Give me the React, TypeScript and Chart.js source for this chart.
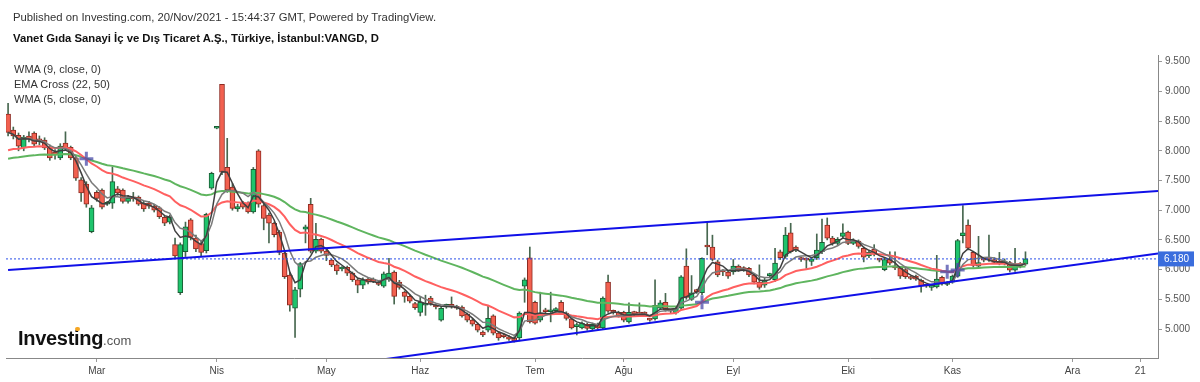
import React, { useEffect, useRef } from 'react';
import { Chart, registerables } from 'chart.js';

Chart.register(...registerables);

// Daily OHLC, VANGD (bar index 0 = early Feb 2021 ... 195 = 19 Nov 2021)
const openP = [
  8.62, 8.35, 8.26, 8.05, 8.25, 8.30, 8.19, 8.18, 8.06, 7.98, 7.88, 8.13, 8.06, 7.88, 7.51, 7.44, 6.64, 7.30, 7.34, 7.10,
  7.12, 7.36, 7.34, 7.15, 7.22, 7.22, 7.12, 7.12, 7.07, 7.04, 6.88, 6.80, 6.42, 5.61, 6.30, 6.84, 6.53, 6.44, 6.32, 7.37,
  8.38, 9.12, 7.72, 7.39, 7.02, 7.12, 7.12, 6.97, 8.00, 7.08, 6.92, 6.78, 6.63, 6.28, 5.91, 5.35, 5.67, 6.68, 7.10, 6.31,
  6.51, 6.31, 6.16, 6.08, 6.01, 6.04, 5.94, 5.83, 5.74, 5.84, 5.84, 5.79, 5.72, 5.84, 5.96, 5.79, 5.62, 5.55, 5.43, 5.28,
  5.40, 5.52, 5.38, 5.15, 5.38, 5.39, 5.38, 5.37, 5.25, 5.15, 5.08, 4.95, 4.98, 5.22, 4.93, 4.90, 4.87, 4.85, 4.85, 5.72,
  6.20, 5.45, 5.15, 5.31, 5.29, 5.31, 5.45, 5.27, 5.17, 5.04, 5.02, 5.08, 5.00, 5.08, 5.02, 5.79, 5.30, 5.28, 5.28, 5.12,
  5.27, 5.26, 5.26, 5.16, 5.17, 5.35, 5.45, 5.31, 5.27, 5.35, 6.06, 5.50, 5.65, 5.61, 6.40, 6.38, 6.13, 5.98, 5.96, 5.96,
  6.06, 6.02, 6.02, 5.91, 5.79, 5.74, 5.90, 5.83, 6.30, 6.22, 6.62, 6.38, 6.19, 6.18, 6.14, 6.20, 6.30, 6.75, 6.53, 6.44,
  6.56, 6.63, 6.44, 6.48, 6.36, 6.23, 6.34, 6.17, 6.00, 6.18, 6.04, 6.03, 6.00, 5.87, 5.89, 5.82, 5.73, 5.70, 5.71, 5.87,
  5.75, 5.79, 5.89, 6.57, 6.75, 6.29, 6.06, 6.17, 6.18, 6.17, 6.14, 6.11, 6.12, 5.99, 6.10, 6.09,
];
const highP = [
  8.80, 8.40, 8.30, 8.26, 8.32, 8.32, 8.25, 8.22, 8.10, 8.02, 8.12, 8.32, 8.08, 7.90, 7.55, 7.48, 7.08, 7.33, 7.36, 7.15,
  7.73, 7.40, 7.36, 7.25, 7.30, 7.24, 7.15, 7.15, 7.10, 7.06, 6.90, 6.92, 6.53, 6.45, 6.80, 6.86, 6.58, 6.48, 6.95, 7.64,
  8.39, 9.12, 8.21, 7.45, 7.10, 7.15, 7.14, 7.72, 8.02, 7.12, 6.95, 6.80, 6.66, 6.30, 5.95, 5.70, 6.12, 6.75, 7.20, 6.78,
  6.53, 6.35, 6.18, 6.10, 6.05, 6.06, 5.96, 5.85, 5.86, 5.86, 5.86, 5.81, 5.96, 6.19, 5.98, 5.82, 5.64, 5.57, 5.45, 5.55,
  5.57, 5.55, 5.41, 5.37, 5.42, 5.54, 5.40, 5.39, 5.27, 5.17, 5.10, 4.97, 5.38, 5.24, 4.95, 4.92, 4.89, 4.87, 5.29, 5.86,
  6.38, 5.47, 5.62, 5.35, 5.62, 5.36, 5.48, 5.29, 5.19, 5.10, 5.12, 5.10, 5.10, 5.10, 5.54, 5.91, 5.32, 5.30, 5.30, 5.44,
  5.30, 5.44, 5.29, 5.18, 5.83, 5.48, 5.60, 5.33, 5.37, 5.90, 6.35, 5.90, 5.67, 6.20, 6.80, 6.58, 6.16, 6.00, 5.98, 6.17,
  6.08, 6.05, 6.04, 5.93, 6.08, 5.86, 5.94, 6.36, 6.33, 6.71, 6.78, 6.40, 6.21, 6.20, 6.20, 6.60, 6.85, 6.87, 6.56, 6.54,
  6.77, 6.65, 6.52, 6.50, 6.38, 6.32, 6.42, 6.19, 6.19, 6.30, 6.30, 6.05, 6.02, 5.89, 5.91, 5.84, 5.75, 5.73, 6.24, 5.89,
  5.80, 5.91, 6.51, 7.08, 6.84, 6.31, 6.56, 6.20, 6.58, 6.20, 6.29, 6.18, 6.14, 6.36, 6.12, 6.30,
];
const lowP = [
  8.25, 8.20, 8.00, 8.00, 8.15, 8.08, 8.10, 8.02, 7.84, 7.86, 7.85, 8.02, 7.85, 7.50, 7.15, 7.05, 6.62, 7.15, 7.02, 7.08,
  7.03, 7.25, 7.12, 7.12, 7.15, 7.08, 6.98, 7.03, 6.97, 6.86, 6.74, 6.77, 6.20, 5.58, 6.22, 6.50, 6.30, 6.22, 6.28, 7.35,
  8.37, 7.60, 7.30, 7.00, 6.98, 7.02, 6.95, 6.95, 7.05, 6.67, 6.45, 6.55, 6.25, 5.85, 5.30, 4.86, 5.54, 6.45, 6.28, 6.28,
  6.28, 6.15, 6.05, 5.92, 5.98, 5.90, 5.80, 5.61, 5.68, 5.76, 5.78, 5.73, 5.70, 5.80, 5.42, 5.67, 5.45, 5.44, 5.33, 5.22,
  5.23, 5.40, 5.34, 5.13, 5.35, 5.35, 5.33, 5.20, 5.12, 5.05, 4.95, 4.87, 4.95, 4.90, 4.81, 4.85, 4.81, 4.78, 4.80, 5.45,
  5.10, 5.08, 5.12, 5.26, 5.12, 5.28, 5.25, 5.15, 5.00, 4.90, 5.00, 4.98, 4.97, 5.00, 5.00, 5.28, 5.25, 5.20, 5.12, 5.10,
  5.22, 5.22, 5.22, 5.13, 5.15, 5.33, 5.30, 5.27, 5.25, 5.33, 5.50, 5.48, 5.60, 5.58, 6.25, 6.15, 5.88, 5.90, 5.85, 5.92,
  5.97, 5.97, 5.88, 5.76, 5.67, 5.70, 5.86, 5.80, 6.17, 6.19, 6.28, 6.30, 6.14, 6.02, 6.07, 6.17, 6.27, 6.50, 6.41, 6.41,
  6.53, 6.42, 6.42, 6.36, 6.13, 6.20, 6.23, 6.13, 5.98, 6.08, 6.00, 5.85, 5.85, 5.83, 5.82, 5.62, 5.70, 5.65, 5.69, 5.74,
  5.73, 5.77, 5.87, 6.45, 6.33, 6.04, 6.03, 6.13, 6.14, 6.10, 6.08, 6.08, 5.96, 5.97, 6.03, 6.07,
];
const closeP = [
  8.31, 8.25, 8.08, 8.23, 8.20, 8.11, 8.17, 8.05, 7.88, 7.93, 8.08, 8.05, 7.88, 7.54, 7.29, 7.10, 7.04, 7.20, 7.05, 7.13,
  7.48, 7.29, 7.15, 7.20, 7.19, 7.10, 7.02, 7.07, 7.00, 6.89, 6.78, 6.88, 6.23, 6.42, 6.72, 6.54, 6.35, 6.29, 6.93, 7.62,
  8.38, 7.64, 7.34, 7.03, 7.06, 7.05, 6.97, 7.69, 7.10, 6.86, 6.78, 6.59, 6.29, 5.88, 5.40, 5.66, 6.10, 6.72, 6.31, 6.51,
  6.31, 6.24, 6.08, 5.98, 6.03, 5.94, 5.83, 5.74, 5.83, 5.79, 5.80, 5.75, 5.93, 5.94, 5.55, 5.70, 5.55, 5.47, 5.36, 5.45,
  5.40, 5.43, 5.37, 5.35, 5.38, 5.38, 5.35, 5.22, 5.15, 5.08, 4.98, 4.90, 5.18, 4.93, 4.85, 4.87, 4.83, 4.80, 5.27, 5.83,
  5.12, 5.10, 5.27, 5.29, 5.31, 5.33, 5.27, 5.18, 5.02, 5.06, 5.10, 5.01, 5.08, 5.02, 5.52, 5.30, 5.28, 5.22, 5.15, 5.28,
  5.26, 5.25, 5.25, 5.15, 5.40, 5.44, 5.32, 5.30, 5.35, 5.88, 5.53, 5.61, 5.63, 6.19, 6.38, 6.17, 5.91, 5.96, 5.89, 6.06,
  6.00, 6.00, 5.91, 5.79, 5.70, 5.83, 5.91, 6.11, 6.20, 6.58, 6.30, 6.33, 6.17, 6.16, 6.18, 6.33, 6.46, 6.53, 6.44, 6.51,
  6.62, 6.44, 6.49, 6.39, 6.21, 6.29, 6.26, 6.16, 6.17, 6.11, 6.03, 5.89, 5.88, 5.85, 5.84, 5.72, 5.72, 5.70, 5.84, 5.77,
  5.78, 5.89, 6.49, 6.62, 6.36, 6.07, 6.12, 6.16, 6.17, 6.12, 6.10, 6.12, 5.99, 6.09, 6.07, 6.18,
];

const monthTicks = [17, 40, 61, 79, 101, 118, 139, 161, 181, 204, 217];
const monthLabels = ['Mar', 'Nis', 'May', 'Haz', 'Tem', 'Ağu', 'Eyl', 'Eki', 'Kas', 'Ara', '21'];
const priceTicks = [5.0, 5.5, 6.0, 6.5, 7.0, 7.5, 8.0, 8.5, 9.0, 9.5];

// Trend lines drawn on the chart: [barIndex, price] anchor pairs
const upperTrend = [[0, 5.994], [220.4, 7.323]];
const lowerTrend = [[72, 4.49], [220.4, 6.27]];

const lastPrice = 6.18;
const ema22Seed = 7.98;
const ema50Seed = 7.85;

const X_MIN = -0.4;
const X_MAX = 220.4;
const Y_MIN = 4.512;
const Y_MAX = 9.613;

function wma(src: number[], n: number): number[] {
  return src.map((_, i) => {
    let num = 0;
    let den = 0;
    for (let k = 0; k < n && i - k >= 0; k++) {
      const w = n - k;
      num += w * src[i - k];
      den += w;
    }
    return num / den;
  });
}

function ema(src: number[], n: number, seed: number): number[] {
  const k = 2 / (n + 1);
  let e = seed;
  return src.map((c) => (e = c * k + e * (1 - k)));
}

const RED_FILL = '#f2604f';
const RED_EDGE = '#8e2b22';
const GREEN_FILL = '#1ec46c';
const GREEN_EDGE = '#1a5c34';
const WICK = '#47674f';

const priceTag = {
  id: 'priceTag',
  afterDraw(chart: any) {
    const { ctx, chartArea, scales } = chart;
    const py = scales.y.getPixelForValue(lastPrice);
    ctx.save();
    ctx.fillStyle = '#3a6ddd';
    ctx.fillRect(chartArea.right, py - 7.5, 36, 15);
    ctx.fillStyle = '#ffffff';
    ctx.font = '10px Arial, "Liberation Sans", sans-serif';
    ctx.textBaseline = 'middle';
    ctx.textAlign = 'left';
    ctx.fillText(lastPrice.toFixed(3), chartArea.right + 6, py + 0.5);
    ctx.restore();
  },
};

export default function App() {
  const canvasRef = useRef<HTMLCanvasElement | null>(null);

  useEffect(() => {
    const canvas = canvasRef.current;
    if (!canvas) return;
    const n = closeP.length;
    const idx = closeP.map((_, i) => i);
    const isUp = idx.map((i) => closeP[i] >= openP[i]);

    const wma9 = wma(closeP, 9);
    const wma5 = wma(closeP, 5);
    const e22 = ema(closeP, 22, ema22Seed);
    const e50 = ema(closeP, 50, ema50Seed);

    const crosses: { x: number; y: number }[] = [];
    for (let i = 1; i < n; i++) {
      const a = Math.sign(e22[i - 1] - e50[i - 1]);
      const b = Math.sign(e22[i] - e50[i]);
      if (a !== b && b !== 0) crosses.push({ x: i, y: (e22[i] + e50[i]) / 2 });
    }

    const lineDs = (data: number[], color: string, width: number, order: number) => ({
      type: 'line' as const,
      data: data.map((v, i) => ({ x: i, y: v })),
      borderColor: color,
      borderWidth: width,
      pointRadius: 0,
      tension: 0,
      order,
    });

    const chart = new Chart(canvas, {
      type: 'bar',
      data: {
        datasets: [
          {
            type: 'bar',
            data: idx.map((i) => ({ x: i, y: [lowP[i], highP[i]] })) as any,
            backgroundColor: WICK,
            borderWidth: 0,
            barThickness: 1,
            grouped: false,
            minBarLength: 1,
            order: 20,
          } as any,
          {
            type: 'bar',
            data: idx.map((i) => ({ x: i, y: [openP[i], closeP[i]] })) as any,
            backgroundColor: idx.map((i) => (isUp[i] ? GREEN_FILL : RED_FILL)),
            borderColor: idx.map((i) => (isUp[i] ? GREEN_EDGE : RED_EDGE)),
            borderWidth: 1,
            borderSkipped: false,
            barThickness: 5,
            grouped: false,
            minBarLength: 2,
            order: 19,
          } as any,
          lineDs(e50, '#5fb55f', 2, 9),
          lineDs(e22, '#ff6060', 2, 8),
          lineDs(wma9, '#7a7a7a', 1.5, 7),
          lineDs(wma5, '#3f3f3f', 1.5, 6),
          {
            type: 'line',
            data: crosses,
            showLine: false,
            pointStyle: 'cross',
            pointRadius: 7,
            pointBorderWidth: 3,
            pointBorderColor: 'rgba(75,75,170,0.75)',
            pointBackgroundColor: 'rgba(75,75,170,0.75)',
            order: 5,
          } as any,
          {
            type: 'line',
            data: [
              { x: X_MIN, y: lastPrice },
              { x: X_MAX, y: lastPrice },
            ],
            borderColor: '#2a4fe8',
            borderWidth: 1,
            borderDash: [2, 2],
            pointRadius: 0,
            order: 4,
          } as any,
          {
            type: 'line',
            data: upperTrend.map(([x, y]) => ({ x, y })),
            borderColor: '#1010e8',
            borderWidth: 2,
            pointRadius: 0,
            order: 3,
          } as any,
          {
            type: 'line',
            data: lowerTrend.map(([x, y]) => ({ x, y })),
            borderColor: '#1010e8',
            borderWidth: 2,
            pointRadius: 0,
            order: 3,
          } as any,
        ],
      },
      options: {
        responsive: false,
        animation: false,
        events: [],
        layout: { autoPadding: false, padding: { left: 6, top: 55, right: 0, bottom: 0 } },
        plugins: {
          legend: { display: false },
          tooltip: { enabled: false },
        },
        scales: {
          x: {
            type: 'linear',
            min: X_MIN,
            max: X_MAX,
            offset: false,
            afterBuildTicks: (s: any) => {
              s.ticks = monthTicks.map((v) => ({ value: v }));
            },
            afterFit: (s: any) => {
              s.height = 24;
            },
            ticks: {
              autoSkip: false,
              maxRotation: 0,
              padding: 3,
              color: '#444',
              font: { family: 'Arial, "Liberation Sans", sans-serif', size: 10 },
              callback: (_v: any, i: number) => monthLabels[i],
            },
            grid: { drawOnChartArea: false, offset: false, tickLength: 4, color: '#999' },
            border: { color: '#888' },
          },
          y: {
            type: 'linear',
            position: 'right',
            min: Y_MIN,
            max: Y_MAX,
            afterBuildTicks: (s: any) => {
              s.ticks = priceTicks.map((v) => ({ value: v }));
            },
            afterFit: (s: any) => {
              s.width = 42;
            },
            ticks: {
              padding: 3,
              color: '#555',
              font: { family: 'Arial, "Liberation Sans", sans-serif', size: 10 },
              callback: (v: any) => Number(v).toFixed(3),
            },
            grid: { drawOnChartArea: false, tickLength: 4, color: '#999' },
            border: { color: '#888' },
          },
        },
      } as any,
      plugins: [priceTag],
    });
    return () => chart.destroy();
  }, []);

  const font = 'Arial, "Liberation Sans", sans-serif';
  return (
    <div style={{ position: 'absolute', left: 0, top: 0, width: 1200, height: 382, background: '#fff', fontFamily: font, overflow: 'hidden' }}>
      <canvas ref={canvasRef} width={1200} height={382} style={{ position: 'absolute', left: 0, top: 0, width: 1200, height: 382 }} />
      <div style={{ position: 'absolute', left: 13, top: 10, fontSize: 11.3, lineHeight: '14px', color: '#333', whiteSpace: 'nowrap' }}>
        Published on Investing.com, 20/Nov/2021 - 15:44:37 GMT, Powered by TradingView.
      </div>
      <div style={{ position: 'absolute', left: 13, top: 31, fontSize: 11.3, lineHeight: '14px', fontWeight: 'bold', color: '#111', whiteSpace: 'nowrap' }}>
        Vanet Gıda Sanayi İç ve Dış Ticaret A.Ş., Türkiye, İstanbul:VANGD, D
      </div>
      <div style={{ position: 'absolute', left: 14, top: 62, fontSize: 11, lineHeight: '15px', color: '#333', whiteSpace: 'nowrap' }}>
        <div>WMA (9, close, 0)</div>
        <div>EMA Cross (22, 50)</div>
        <div>WMA (5, close, 0)</div>
      </div>
      <div style={{ position: 'absolute', left: 18, top: 326, whiteSpace: 'nowrap', lineHeight: '24px' }}>
        <span style={{ fontSize: 20, fontWeight: 'bold', color: '#111', letterSpacing: '-0.3px' }}>Investing</span>
        <span style={{ fontSize: 13, color: '#555' }}>.com</span>
      </div>
      <div style={{ position: 'absolute', left: 75, top: 327, width: 5, height: 4, borderRadius: 2, background: '#f5a623' }} />
    </div>
  );
}
